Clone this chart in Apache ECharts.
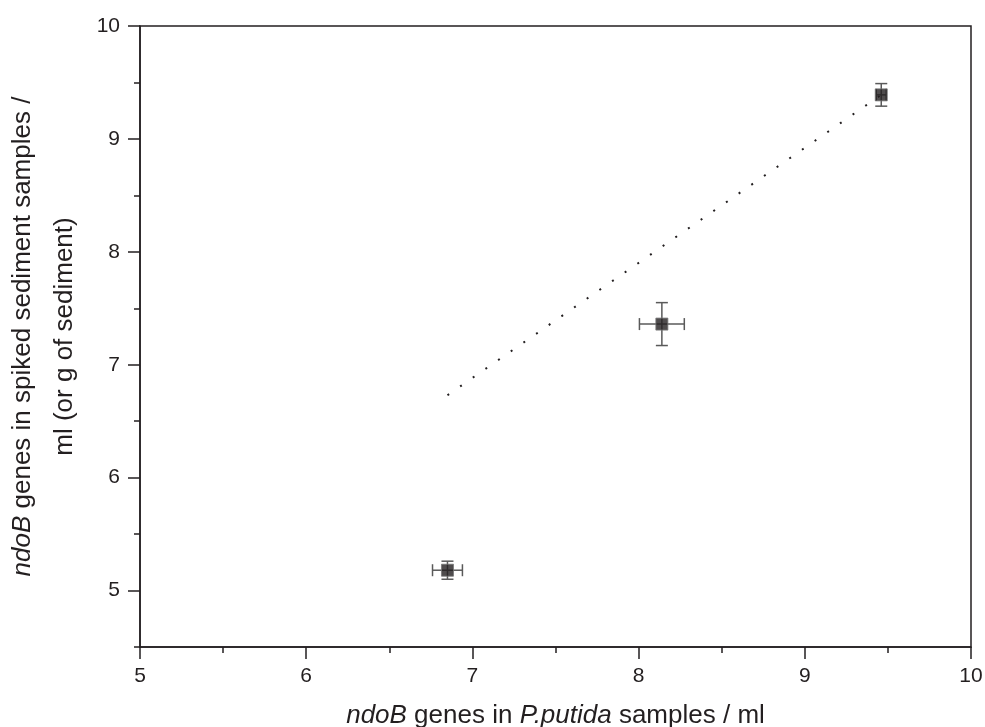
<!DOCTYPE html>
<html>
<head>
<meta charset="utf-8">
<script src="https://cdn.jsdelivr.net/npm/echarts@6/dist/echarts.min.js"></script>
<style>
  html, body { margin: 0; padding: 0; background: #fff; }
  #chart { width: 985px; height: 727px; }
</style>
</head>
<body>
<div id="chart"></div>
<script>
// measured points (log copies)
const xVals = [6.85, 8.14, 9.46];
const yVals = [5.18, 7.36, 9.39];
const xErr = [0.09, 0.135, 0.03];
const yErr = [0.08, 0.19, 0.1];
// dotted fit line ends
const fitX = [6.85, 9.45];
const fitY = [6.73, 9.38];
// y axis ticks
const yMajor = [5, 6, 7, 8, 9, 10];
const yMinor = [4.5, 5.5, 6.5, 7.5, 8.5, 9.5];

const ink = '#231f20';
const pts = xVals.map((x, i) => [x, yVals[i], xErr[i], yErr[i]]);

const chart = echarts.init(document.getElementById('chart'));

function errorBars(params, api) {
  const x = api.value(0), y = api.value(1), ex = api.value(2), ey = api.value(3);
  const c = api.coord([x, y]);
  const l = api.coord([x - ex, y]), r = api.coord([x + ex, y]);
  const t = api.coord([x, y + ey]), b = api.coord([x, y - ey]);
  const cap = 6;
  const st = { stroke: '#5a5a5a', lineWidth: 1.5 };
  const line = (x1, y1, x2, y2) => ({ type: 'line', shape: { x1, y1, x2, y2 }, style: st });
  return {
    type: 'group',
    children: [
      line(l[0], c[1], r[0], c[1]),
      line(l[0], c[1] - cap, l[0], c[1] + cap),
      line(r[0], c[1] - cap, r[0], c[1] + cap),
      line(c[0], t[1], c[0], b[1]),
      line(c[0] - cap, t[1], c[0] + cap, t[1]),
      line(c[0] - cap, b[1], c[0] + cap, b[1])
    ]
  };
}

const tickStyle = { color: ink, width: 1.5 };

chart.setOption({
  animation: false,
  textStyle: { fontFamily: 'Liberation Sans, Arial, sans-serif' },
  grid: {
    left: 140, right: 14, top: 26, bottom: 80,
    outerBoundsMode: 'none',
    show: true, borderColor: ink, borderWidth: 1.5, backgroundColor: 'transparent'
  },
  xAxis: {
    type: 'value', min: 5, max: 10, interval: 1,
    splitLine: { show: false },
    axisLine: { onZero: false, lineStyle: { color: ink, width: 1.5 } },
    axisTick: { length: 12, lineStyle: tickStyle },
    minorTick: { show: true, splitNumber: 2, length: 6, lineStyle: tickStyle },
    axisLabel: { color: ink, fontSize: 21, margin: 19 },
    name: '{i|ndoB} genes in {i|P.putida} samples / ml',
    nameLocation: 'middle', nameGap: 56,
    nameTextStyle: {
      color: ink, fontSize: 26,
      rich: { i: { fontStyle: 'italic', fontSize: 26, color: ink } }
    }
  },
  yAxis: [
    {
      type: 'value', min: 4.5, max: 10,
      splitLine: { show: false },
      axisLine: { onZero: false, lineStyle: { color: ink, width: 1.5 } },
      axisTick: { length: 12, lineStyle: tickStyle, customValues: yMajor },
      axisLabel: { color: ink, fontSize: 21, margin: 20, customValues: yMajor },
      name: '{i|ndoB} genes in spiked sediment samples /\nml (or g of sediment)',
      nameLocation: 'middle', nameGap: 49, nameRotate: 90,
      nameTextStyle: {
        color: ink, fontSize: 26, lineHeight: 42,
        rich: { i: { fontStyle: 'italic', fontSize: 26, color: ink, lineHeight: 42 } }
      }
    },
    {
      type: 'value', min: 4.5, max: 10, position: 'left',
      splitLine: { show: false },
      axisLine: { show: false },
      axisTick: { length: 6, lineStyle: tickStyle, customValues: yMinor },
      axisLabel: { show: false }
    }
  ],
  series: [
    {
      type: 'line',
      data: fitX.map((x, i) => [x, fitY[i]]),
      symbol: 'none',
      lineStyle: { color: ink, width: 2, type: [2, 13.4] },
      z: 1
    },
    {
      type: 'custom',
      renderItem: errorBars,
      data: pts,
      encode: { x: 0, y: 1 },
      z: 2
    },
    {
      type: 'scatter',
      data: pts.map(p => [p[0], p[1]]),
      symbol: 'rect',
      symbolSize: 12,
      itemStyle: { color: ink, borderColor: '#777', borderWidth: 1 },
      z: 3
    }
  ]
});
</script>
</body>
</html>
